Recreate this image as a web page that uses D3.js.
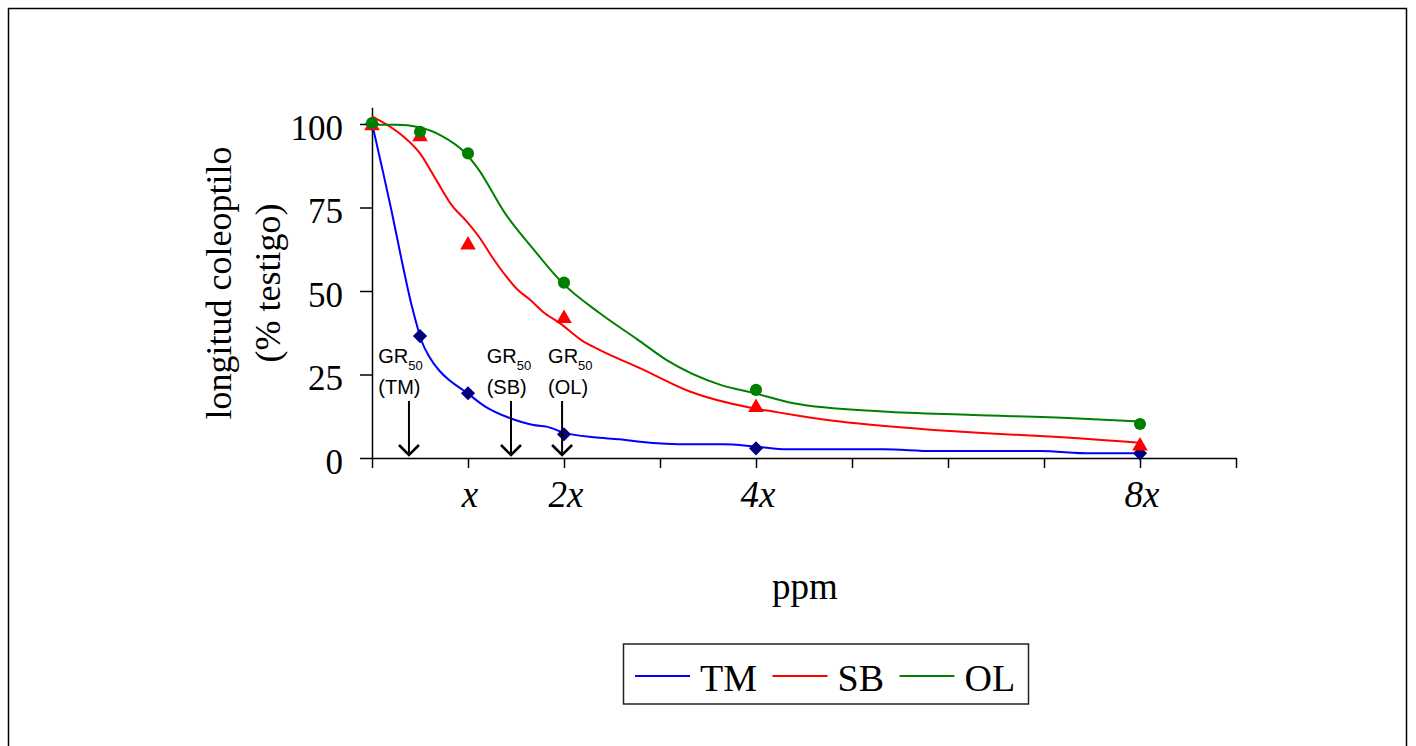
<!DOCTYPE html>
<html>
<head>
<meta charset="utf-8">
<script src="https://cdn.jsdelivr.net/npm/d3@7"></script>
<style>
  html, body { margin: 0; padding: 0; background: #fff; }
  svg { display: block; }
</style>
</head>
<body>
<svg id="chart" width="1416" height="746"></svg>
<script>
// ---------------- DATA ----------------
const doses = [0, 0.5, 1, 2, 4, 8];               // in units of x
const tmObs = [100, 36.5, 19.4, 7.1, 2.9, 1.4];
const sbObs = [99.5, 96.2, 63.8, 41.8, 15.1, 3.6];
const olObs = [100.3, 97.7, 91.2, 52.5, 20.4, 10.2];

// fitted curves
const tmFitX = [0, 0.1, 0.2, 0.3, 0.41, 0.48, 0.52, 0.6, 0.7, 0.8, 0.9, 0.97, 1.18, 1.44, 1.68, 1.82, 2.0, 2.31, 2.58, 2.79, 3.31, 3.66, 4.0, 4.32, 5.33, 5.85, 6.96, 7.48, 8.0];
const tmFitY = [100.2, 87.5, 74.5, 60.5, 46, 38.5, 34.8, 30.2, 26.2, 23.4, 21.3, 19.9, 15.4, 11.9, 9.9, 9.4, 7.6, 6.2, 5.6, 4.9, 4.1, 4.1, 3.4, 2.6, 2.6, 2.1, 2.1, 1.4, 1.4];
const sbFitX = [0, 0.33, 0.5, 0.67, 0.83, 0.99, 1.125, 1.26, 1.40, 1.52, 1.65, 1.78, 1.96, 2.18, 2.375, 2.79, 3.31, 3.97, 4.18, 4.46, 4.875, 5.85, 6.40, 6.96, 8.0];
const sbFitY = [102.3, 96.2, 91.2, 83.2, 75.7, 70.7, 65.8, 59.8, 54.3, 50.3, 47.3, 43.8, 40.3, 35.3, 32.3, 26.9, 19.9, 14.9, 13.9, 12.6, 10.9, 8.4, 7.4, 6.6, 4.6];
const olFitX = [0, 0.26, 0.48, 0.73, 0.97, 1.1, 1.39, 1.67, 1.98, 2.37, 2.76, 3.07, 3.63, 3.97, 4.39, 5.32, 6.26, 7.30, 8.0];
const olFitY = [99.8, 99.8, 99.1, 96.4, 91.4, 86.8, 73.1, 62.9, 52.5, 43.4, 35.6, 29.3, 21.9, 19.5, 16.4, 13.9, 12.9, 11.9, 10.9];

const yTicks = [0, 25, 50, 75, 100];
const xTickValues = [0, 1, 2, 3, 4, 5, 6, 7, 8, 9];
const xTickLabels = {1: "x", 2: "2x", 4: "4x", 8: "8x"};
const seriesNames = ["TM", "SB", "OL"];
const gr50Names = ["TM", "SB", "OL"];
const gr50Values = [0.385, 1.448, 1.98];          // GR50 in units of x

// ---------------- LAYOUT / STYLE ----------------
const serif = "'Liberation Serif', 'Times New Roman', serif";
const sans = "'Liberation Sans', Arial, sans-serif";
const colors = {TM: "#0000ff", SB: "#ff0000", OL: "#008000"};
const markerColors = {TM: "#000080", SB: "#ff0000", OL: "#008000"};
const gr50TextOffset = [-30.7, -24.3, -14];       // label left edge relative to arrow (px)

const svg = d3.select("#chart");

// outer frame
svg.append("rect")
  .attr("x", 8.5).attr("y", 8.5).attr("width", 1398).attr("height", 800)
  .attr("fill", "none").attr("stroke", "#000").attr("stroke-width", 1.5);

const x = d3.scaleLinear().domain([0, 9]).range([372, 1236]);
const y = d3.scaleLinear().domain([0, 105]).range([458, 107.3]);

// axes
const gx = svg.append("g").attr("transform", `translate(0,${y(0)})`)
  .call(d3.axisBottom(x).tickValues(xTickValues).tickSize(10).tickSizeOuter(0).tickFormat(""));
const gy = svg.append("g").attr("transform", `translate(${x(0)},0)`)
  .call(d3.axisLeft(y).tickValues(yTicks).tickSize(12).tickSizeOuter(0).tickFormat(""));
[gx, gy].forEach(g => {
  g.select(".domain").attr("stroke", "#000").attr("stroke-width", 1.5);
  g.selectAll(".tick line").attr("stroke", "#000").attr("stroke-width", 1.5);
});

// y tick labels
svg.append("g").selectAll("text").data(yTicks).join("text")
  .attr("x", 343).attr("y", d => y(d) + 15.5)
  .attr("text-anchor", "end")
  .attr("font-family", serif).attr("font-size", 35)
  .text(d => d);

// x tick labels
svg.append("g").selectAll("text").data(Object.keys(xTickLabels).map(Number)).join("text")
  .attr("x", d => x(d) + 2).attr("y", 507)
  .attr("text-anchor", "middle")
  .attr("font-family", serif).attr("font-size", 37).attr("font-style", "italic")
  .text(d => xTickLabels[d]);

// axis titles
const yt = svg.append("text")
  .attr("transform", `translate(231,283) rotate(-90)`)
  .attr("text-anchor", "middle")
  .attr("font-family", serif).attr("font-size", 36);
yt.append("tspan").attr("x", 0).attr("y", 0).text("longitud coleoptilo");
yt.append("tspan").attr("x", 0).attr("y", 49).text("(% testigo)");

svg.append("text")
  .attr("x", 805).attr("y", 599)
  .attr("text-anchor", "middle")
  .attr("font-family", serif).attr("font-size", 37)
  .text("ppm");

// fitted lines
const line = d3.line().x(d => x(d[0])).y(d => y(d[1])).curve(d3.curveMonotoneX);
const fits = {
  TM: d3.zip(tmFitX, tmFitY),
  SB: d3.zip(sbFitX, sbFitY),
  OL: d3.zip(olFitX, olFitY)
};
seriesNames.forEach(n => {
  svg.append("path").datum(fits[n])
    .attr("d", line)
    .attr("fill", "none")
    .attr("stroke", colors[n]).attr("stroke-width", 2);
});

// markers
const obs = {TM: tmObs, SB: sbObs, OL: olObs};
const symbols = {
  TM: d3.symbol(d3.symbolSquare, 100),
  SB: d3.symbol(d3.symbolTriangle, 105),
  OL: d3.symbol(d3.symbolCircle, 115)
};
seriesNames.forEach(n => {
  svg.append("g").selectAll("path").data(d3.zip(doses, obs[n])).join("path")
    .attr("d", symbols[n])
    .attr("transform", d => `translate(${x(d[0])},${y(d[1])})` + (n === "TM" ? " rotate(45)" : ""))
    .attr("fill", markerColors[n]);
});

// GR50 annotations
gr50Names.forEach((n, i) => {
  const ax = x(gr50Values[i]);
  const tx = ax + gr50TextOffset[i];
  const t = svg.append("text").attr("x", tx).attr("y", 363)
    .attr("font-family", sans).attr("font-size", 20).attr("fill", "#000");
  t.append("tspan").text("GR");
  t.append("tspan").attr("font-size", 13).attr("dy", 7).text("50");
  svg.append("text").attr("x", tx).attr("y", 394)
    .attr("font-family", sans).attr("font-size", 20).attr("fill", "#000")
    .text(`(${n})`);
  const tipY = y(0) - 3;
  svg.append("line").attr("x1", ax).attr("x2", ax).attr("y1", 401).attr("y2", tipY)
    .attr("stroke", "#000").attr("stroke-width", 2);
  svg.append("path")
    .attr("d", `M${ax - 10},${tipY - 10} L${ax},${tipY} L${ax + 10},${tipY - 10}`)
    .attr("fill", "none").attr("stroke", "#000").attr("stroke-width", 2.6);
});

// legend
const lg = svg.append("g");
lg.append("rect").attr("x", 623.5).attr("y", 644).attr("width", 405).attr("height", 60)
  .attr("fill", "#fff").attr("stroke", "#222").attr("stroke-width", 1.5);
let cx = 635;
seriesNames.forEach(n => {
  lg.append("line").attr("x1", cx).attr("x2", cx + 55).attr("y1", 676).attr("y2", 676)
    .attr("stroke", colors[n]).attr("stroke-width", 2);
  const t = lg.append("text").attr("x", cx + 65).attr("y", 691)
    .attr("font-family", serif).attr("font-size", 38).text(n);
  cx = cx + 65 + t.node().getComputedTextLength() + 15.5;
});
</script>
</body>
</html>
